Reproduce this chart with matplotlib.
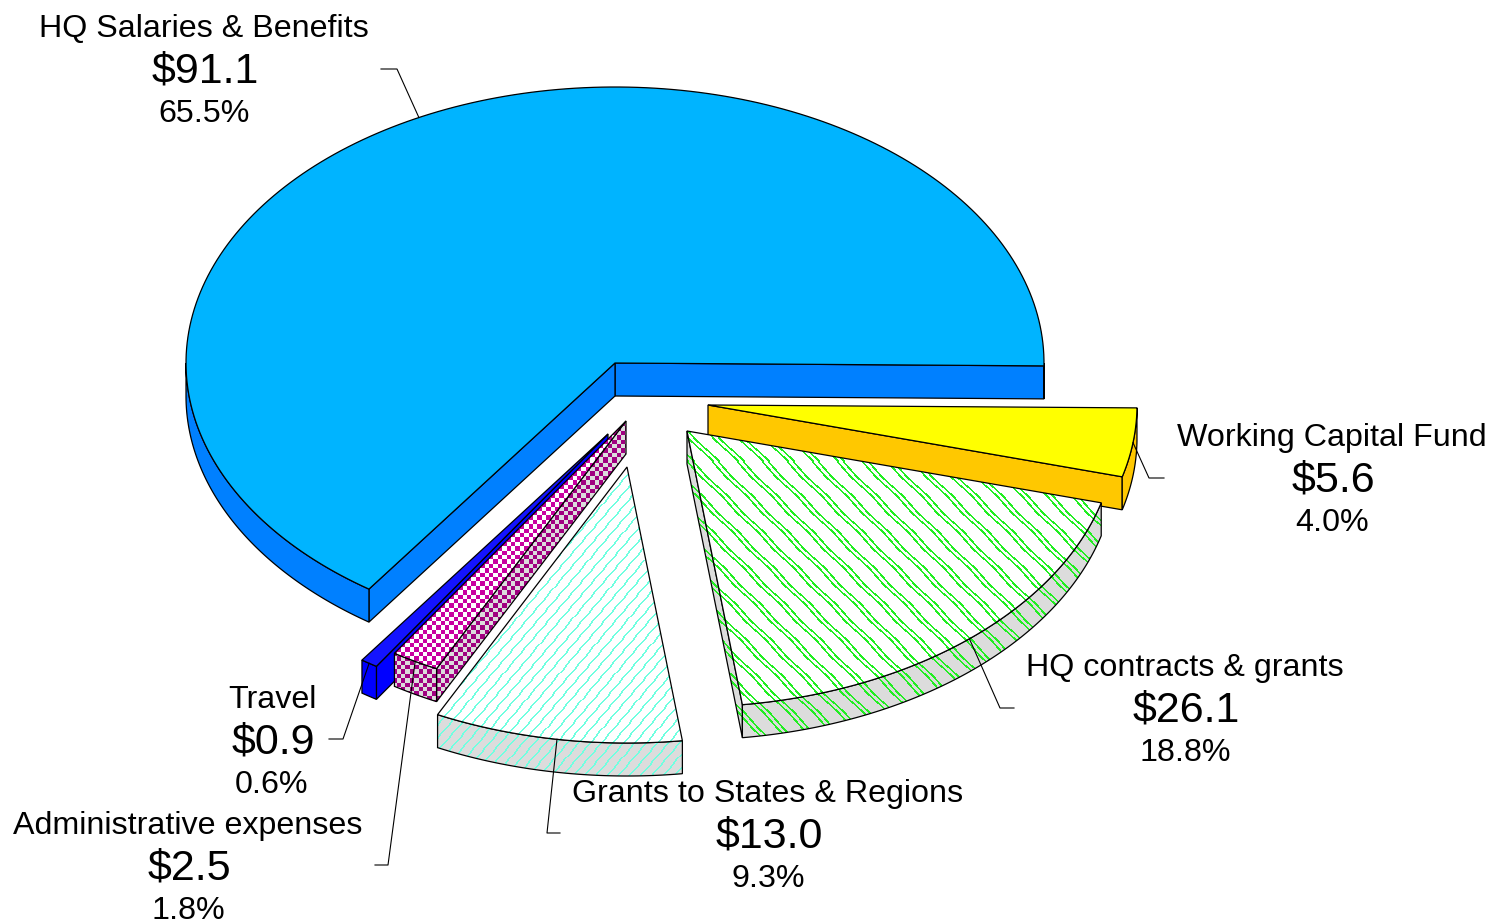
import numpy as np
import matplotlib
matplotlib.use("Agg")
import matplotlib.pyplot as plt
from matplotlib.colors import to_rgb
from matplotlib.patches import Polygon

plt.rcParams['font.family'] = ['Liberation Sans', 'DejaVu Sans']

# budget by category, $ millions
names = ['HQ Salaries & Benefits', 'Travel', 'Administrative expenses',
         'Grants to States & Regions', 'HQ contracts & grants', 'Working Capital Fund']
values = [91.1, 0.9, 2.5, 13.0, 26.1, 5.6]
percents = ['65.5%', '0.6%', '1.8%', '9.3%', '18.8%', '4.0%']

# pie geometry in pixels
RX, RY, DEPTH = 429, 276, 33
START_ANGLE = -0.6
apex = [(615, 363), (608, 434), (626, 421), (627, 467), (687, 431), (708, 405)]

# name baseline x/y, then leader elbow and leader end
label_pos = [(204, 37), (272, 708), (188, 834), (768, 802), (1185, 676), (1332, 446)]
leaders = [((397, 69), (381, 69)), ((343, 739), (329, 739)), ((388, 865), (375, 865)),
           ((547, 833), (560, 833)), ((1000, 708), (1014, 708)), ((1149, 478), (1164, 478))]

W, H = 1491, 921


def two_tone(mask, c1, c2):
    img = np.zeros((H, W, 3))
    img[mask] = to_rgb(c1)
    img[~mask] = to_rgb(c2)
    return img


def checker(c1, c2, cell=4.4):
    yy, xx = np.mgrid[0:H, 0:W]
    mask = ((xx // cell + yy // cell) % 2).astype(bool)
    return two_tone(mask, c1, c2)


def diagonal(line, back, period, slope, offsets, width, wave, wave_len):
    # repeating sloped lines, slightly wavy like a bitmap fill
    yy, xx = np.mgrid[0:H, 0:W]
    u = (xx + slope * yy + wave * np.sin(yy * 2 * np.pi / wave_len)) % period
    mask = np.zeros((H, W), dtype=bool)
    for off in offsets:
        mask |= np.abs(((u - off + period / 2) % period) - period / 2) < width / 2
    return two_tone(mask, line, back)


grey = '#dcdcdc'
aqua = dict(period=11.2, slope=0.85, offsets=[0], width=2.0, wave=0.5, wave_len=14)
green = dict(period=25, slope=-1.0, offsets=[0, 6], width=2.4, wave=0.9, wave_len=36)
top_fills = ['#00b4ff', '#1414ff',
             checker('#c800a0', '#ffffff'),
             diagonal('#70ffe0', '#ffffff', **aqua),
             diagonal('#22ee22', '#ffffff', **green),
             '#ffff00']
side_fills = ['#0080ff', '#0000ff',
              checker('#a00080', grey),
              diagonal('#70ffe0', grey, **aqua),
              diagonal('#22ee22', grey, **green),
              '#ffc800']

fig = plt.figure(figsize=(W / 100, H / 100), dpi=100)
ax = fig.add_axes([0, 0, 1, 1])


def draw_face(pts, fill, zorder):
    if isinstance(fill, str):
        ax.add_patch(Polygon(pts, closed=True, facecolor=fill, edgecolor='black',
                             linewidth=0.9, zorder=zorder))
        return
    outline = Polygon(pts, closed=True, facecolor='none', edgecolor='black',
                      linewidth=0.9, zorder=zorder + 0.1)
    ax.add_patch(outline)
    im = ax.imshow(fill, extent=(0, W, H, 0), origin='upper',
                   interpolation='nearest', aspect='auto', zorder=zorder)
    im.set_clip_path(outline)


def arc(cx, cy, a0, a1, drop=0):
    t = np.radians(np.linspace(a0, a1, 200))
    return np.column_stack([cx + RX * np.cos(t), cy - RY * np.sin(t) + drop])


# sweep of each slice from its value
spans = []
angle = START_ANGLE
for v in values:
    sweep = v / sum(values) * 360
    spans.append((angle, angle + sweep))
    angle += sweep

# fixed paint order so the nearer slices sit over their neighbours
for z, i in enumerate([0, 1, 2, 5, 4, 3]):
    a0, a1 = spans[i]
    cx, cy = apex[i]

    # radial walls facing the viewer
    for a, visible in ((a0, np.cos(np.radians(a0)) > 0), (a1, np.cos(np.radians(a1)) < 0)):
        if visible:
            p = arc(cx, cy, a, a)[0]
            draw_face([(cx, cy), p, (p[0], p[1] + DEPTH), (cx, cy + DEPTH)], side_fills[i], 2 + z)

    # front rim, only the part below the horizontal axis shows
    for k in (-1, 0, 1):
        lo = max(a0, 180 + 360 * k)
        hi = min(a1, 360 + 360 * k)
        if hi > lo:
            rim = np.vstack([arc(cx, cy, lo, hi), arc(cx, cy, lo, hi, DEPTH)[::-1]])
            draw_face(rim, side_fills[i], 2.2 + z)

    draw_face(np.vstack([[(cx, cy)], arc(cx, cy, a0, a1)]), top_fills[i], 2.4 + z)

for i in range(len(values)):
    a0, a1 = spans[i]
    cx, cy = apex[i]
    mid = arc(cx, cy, (a0 + a1) / 2, (a0 + a1) / 2)[0]
    elbow, end = leaders[i]
    ax.plot([mid[0], elbow[0], end[0]], [mid[1], elbow[1], end[1]], color='black',
            linewidth=0.8, zorder=20)

    x, y = label_pos[i]
    ax.text(x, y, names[i], ha='center', va='baseline', fontsize=23.2, zorder=21)
    ax.text(x + 1, y + 45.5, f'${values[i]:.1f}', ha='center', va='baseline', fontsize=31, zorder=21)
    ax.text(x, y + 84.5, percents[i], ha='center', va='baseline', fontsize=23.2, zorder=21)

ax.set_xlim(0, W)
ax.set_ylim(H, 0)
ax.axis('off')

fig.savefig('out.png', dpi=100, facecolor='white')
